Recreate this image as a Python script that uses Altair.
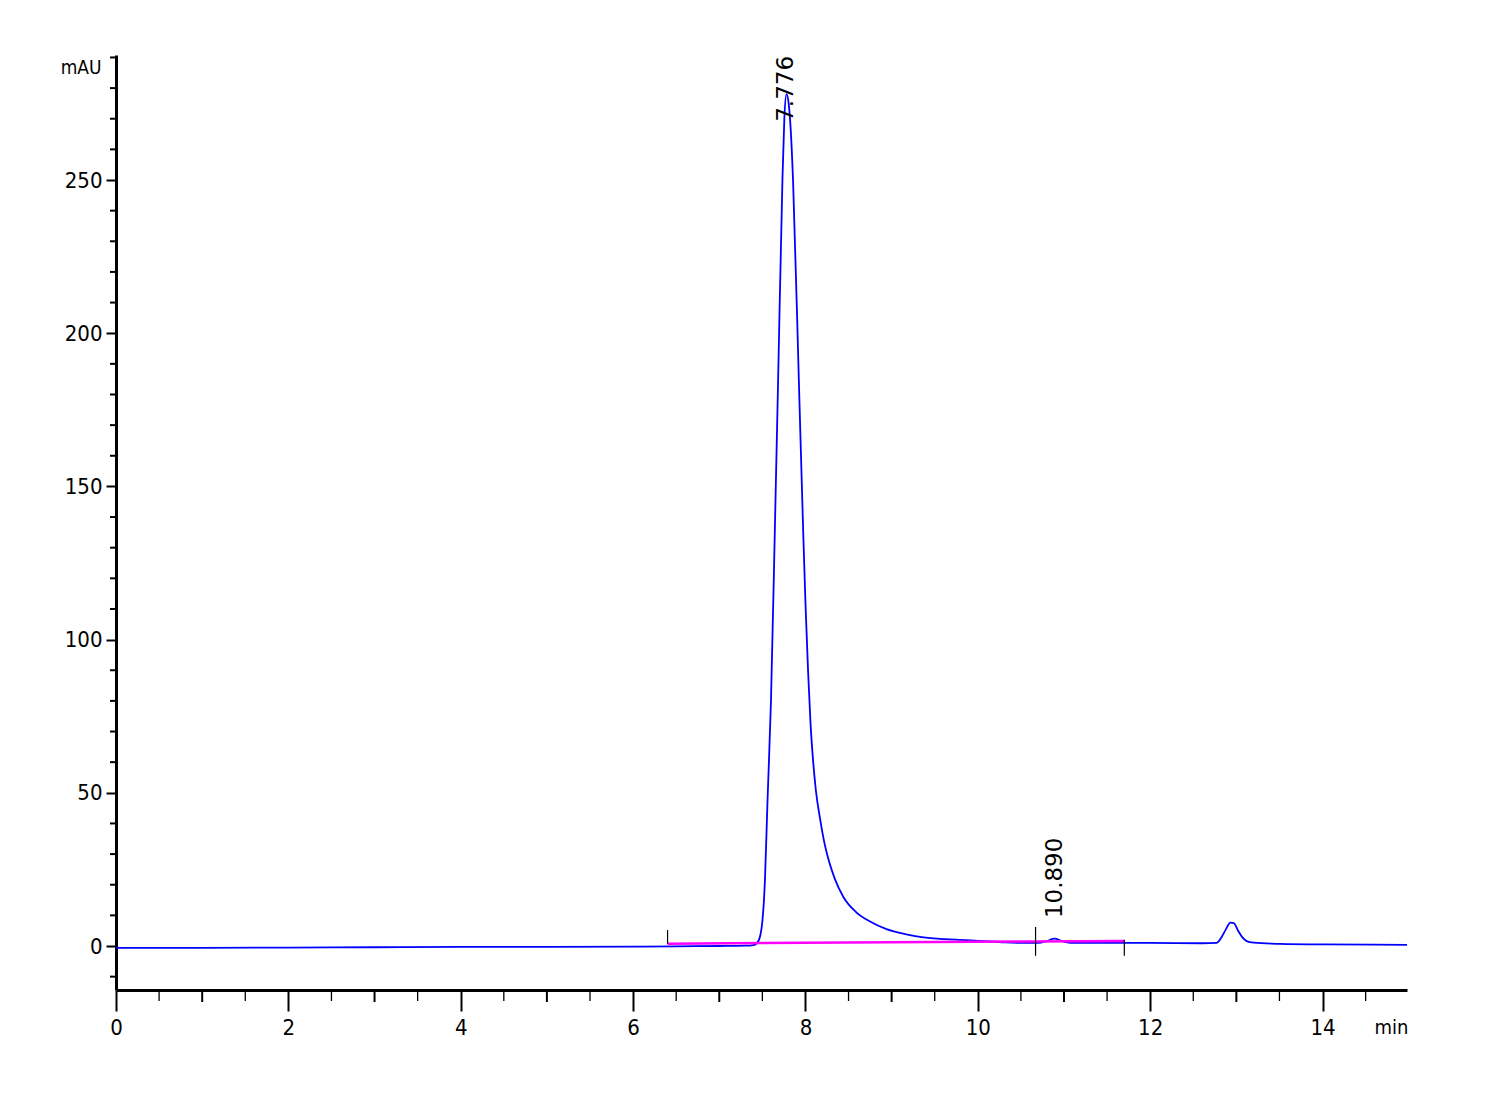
import altair as alt
import pandas as pd

# ---- data ----
time_min = [0.0, 1.0, 2.0, 3.0, 4.0, 5.0, 6.0, 6.5, 7.0, 7.3, 7.40, 7.44, 7.48, 7.50, 7.53,
            7.56, 7.60, 7.645, 7.683, 7.733, 7.755, 7.78, 7.805, 7.83, 7.856,
            7.923, 7.973, 8.00, 8.03, 8.06, 8.09, 8.12, 8.167, 8.225, 8.28, 8.34, 8.44, 8.59,
            8.75, 8.94, 9.17, 9.37, 9.56, 9.75, 10.0, 10.25, 10.5, 10.7, 10.8, 10.89,
            10.98, 11.1, 11.7, 12.0, 12.6,
            12.77, 12.82, 12.88, 12.93, 12.97, 13.02, 13.07, 13.12, 13.20, 13.5, 14.0, 14.98]
signal_mau = [-0.6, -0.6, -0.5, -0.4, -0.3, -0.3, -0.2, -0.1, 0.0, 0.1, 0.3, 1.0, 4.0, 8.0, 21.5,
              47.6, 80.0, 136.0, 185.0, 250.0, 270.0, 278.0, 275.0, 266.0, 250.0,
              185.0, 136.0, 112.0, 90.0, 72.0, 60.0, 51.0, 42.0, 33.0, 27.0, 22.0, 16.0, 11.0,
              8.0, 5.5, 3.8, 2.8, 2.3, 2.1, 1.7, 1.3, 1.0, 1.0, 1.6, 2.4,
              1.6, 1.0, 1.0, 1.0, 0.9,
              1.0, 2.5, 5.5, 7.6, 7.5, 5.0, 2.8, 1.6, 1.1, 0.7, 0.5, 0.4]

baseline_time = [6.4, 10.67, 11.7]
baseline_mau = [0.75, 1.5, 1.6]

marker_time = [6.4, 10.67, 11.7]
marker_low = [0.7, -3.2, -3.2]
marker_high = [5.2, 6.2, 2.0]

peak_time = [7.776, 10.890]
peak_text = ["7.776", "10.890"]
peak_text_y = [269.0, 9.1]

y_major = [0, 50, 100, 150, 200, 250]
y_minor = [-10, 10, 20, 30, 40, 60, 70, 80, 90, 110, 120, 130, 140, 160, 170, 180, 190,
           210, 220, 230, 240, 260, 270, 280, 290]
x_major = [0, 2, 4, 6, 8, 10, 12, 14]
x_mid = [1, 3, 5, 7, 9, 11, 13]
x_minor = [0.5, 1.5, 2.5, 3.5, 4.5, 5.5, 6.5, 7.5, 8.5, 9.5, 10.5, 11.5, 12.5, 13.5, 14.5]

# ---- tables ----
sig = pd.DataFrame({"t": time_min, "v": signal_mau})
base = pd.DataFrame({"t": baseline_time, "v": baseline_mau})
marks = pd.DataFrame({"t": marker_time, "v": marker_low, "hi": marker_high})
labels = pd.DataFrame({"t": peak_time, "v": peak_text_y, "txt": peak_text})
ymin_df = pd.DataFrame({"v": y_minor})
xmid_df = pd.DataFrame({"t": x_mid})
xmin_df = pd.DataFrame({"t": x_minor})

FONT_NARROW = "Liberation Sans Narrow, DejaVu Sans Condensed, Liberation Sans, Arial"
W, H = 1291, 935

xs = alt.Scale(domain=[0, 14.98], nice=False, zero=False)
ys = alt.Scale(domain=[-14.36, 290.8], nice=False, zero=False)

x_axis = alt.Axis(
    values=x_major, title="min", format="d", tickSize=21, tickWidth=2, tickColor="black",
    domainColor="black", domainWidth=3, grid=False, labelFont=FONT_NARROW,
    labelFontSize=22, labelColor="black", labelPadding=6, labelFlush=False,
    titleFont=FONT_NARROW, titleFontSize=20, titleFontWeight="normal", titleColor="black",
    titleAlign="right", titleX=1292, titleY=37, titleBaseline="middle")
y_axis = alt.Axis(
    values=y_major, title="mAU", format="d", tickSize=10, tickWidth=2, tickColor="black",
    domainColor="black", domainWidth=3, grid=False, labelFont=FONT_NARROW,
    labelFontSize=22, labelColor="black", labelPadding=4, labelFlush=False,
    titleFont=FONT_NARROW, titleFontSize=19, titleFontWeight="normal", titleColor="black",
    titleAngle=0, titleAlign="right", titleX=-15, titleY=12, titleBaseline="middle")

X = alt.X("t:Q", scale=xs, axis=x_axis)
Y = alt.Y("v:Q", scale=ys, axis=y_axis)

line = alt.Chart(sig).mark_line(color="#0000ff", strokeWidth=1.8, interpolate="monotone").encode(
    x=X, y=Y, order="t:Q",
)

baseline = alt.Chart(base).mark_line(color="#ff00ff", strokeWidth=2.5).encode(x=X, y=Y)

markers = alt.Chart(marks).mark_rule(color="black", strokeWidth=1.2).encode(
    x=X, y=Y, y2="hi:Q",
)

peak_labels = alt.Chart(labels).mark_text(
    angle=270, align="left", baseline="middle", fontSize=23, clip=True,
    font="DejaVu Sans, Liberation Sans, Arial", color="black",
).encode(x=X, y=Y, text="txt:N")

y_minor_ticks = alt.Chart(ymin_df).mark_rule(color="black", strokeWidth=2).encode(
    y=Y, x=alt.value(-6), x2=alt.value(0),
)

x_mid_ticks = alt.Chart(xmid_df).mark_rule(color="black", strokeWidth=2).encode(
    x=X, y=alt.value(H), y2=alt.value(H + 12),
)

x_minor_ticks = alt.Chart(xmin_df).mark_rule(color="black", strokeWidth=1.3).encode(
    x=X, y=alt.value(H), y2=alt.value(H + 11),
)

chart = alt.layer(
    line, baseline, markers, peak_labels, y_minor_ticks, x_mid_ticks, x_minor_ticks
).properties(
    width=W, height=H,
    padding={"left": 108, "top": 47, "right": 80, "bottom": 90},
    autosize=alt.AutoSizeParams(type="none"),
    background="white",
).configure_view(stroke=None)

chart.save("out.html", embed_options={"renderer": "svg", "actions": False})
